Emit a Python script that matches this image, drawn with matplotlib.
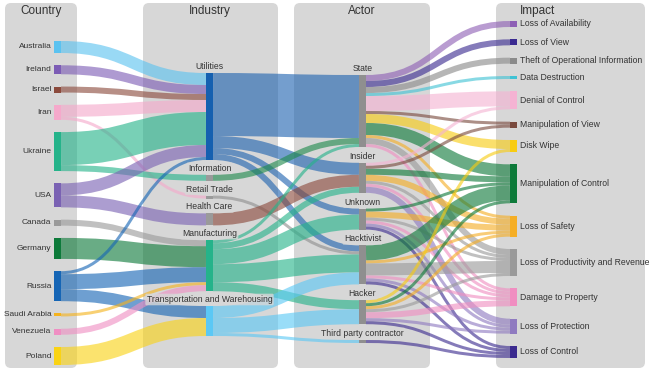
import matplotlib.pyplot as plt
from matplotlib.patches import FancyBboxPatch, Rectangle, PathPatch
from matplotlib.path import Path

plt.rcParams['font.family'] = ['Liberation Sans', 'DejaVu Sans']

# ---- data ----
countries = ['Australia', 'Ireland', 'Israel', 'Iran', 'Ukraine', 'USA', 'Canada',
             'Germany', 'Russia', 'Saudi Arabia', 'Venezuela', 'Poland']
industries = ['Utilities', 'Information', 'Retail Trade', 'Health Care',
              'Manufacturing', 'Transportation and Warehousing']
actors = ['State', 'Insider', 'Unknown', 'Hacktivist', 'Hacker', 'Third party contractor']
impacts = ['Loss of Availability', 'Loss of View', 'Theft of Operational Information',
           'Data Destruction', 'Denial of Control', 'Manipulation of View', 'Disk Wipe',
           'Manipulation of Control', 'Loss of Safety', 'Loss of Productivity and Revenue',
           'Damage to Property', 'Loss of Protection', 'Loss of Control']

country_industry = [
    ('Australia', 'Utilities', 4), ('Ireland', 'Utilities', 3), ('Israel', 'Utilities', 2),
    ('Iran', 'Utilities', 4), ('Iran', 'Retail Trade', 1),
    ('Ukraine', 'Utilities', 11), ('Ukraine', 'Information', 2),
    ('USA', 'Utilities', 4), ('USA', 'Health Care', 4),
    ('Canada', 'Manufacturing', 2), ('Germany', 'Manufacturing', 7),
    ('Russia', 'Utilities', 1), ('Russia', 'Manufacturing', 5),
    ('Russia', 'Transportation and Warehousing', 4),
    ('Saudi Arabia', 'Manufacturing', 1), ('Venezuela', 'Manufacturing', 2),
    ('Poland', 'Transportation and Warehousing', 6),
]
industry_actor = [
    ('Utilities', 'State', 21), ('Utilities', 'Insider', 4), ('Utilities', 'Unknown', 2),
    ('Utilities', 'Hacktivist', 2), ('Information', 'State', 2),
    ('Retail Trade', 'Hacktivist', 1), ('Health Care', 'Insider', 4),
    ('Manufacturing', 'State', 1), ('Manufacturing', 'Insider', 2),
    ('Manufacturing', 'Unknown', 5), ('Manufacturing', 'Hacktivist', 6),
    ('Manufacturing', 'Hacker', 3),
    ('Transportation and Warehousing', 'Hacktivist', 4),
    ('Transportation and Warehousing', 'Hacker', 5),
    ('Transportation and Warehousing', 'Third party contractor', 1),
]
actor_impact = [
    ('State', 'Loss of Availability', 2), ('State', 'Loss of View', 2),
    ('State', 'Theft of Operational Information', 2), ('State', 'Data Destruction', 1),
    ('State', 'Denial of Control', 5), ('State', 'Manipulation of View', 1),
    ('State', 'Disk Wipe', 3), ('State', 'Manipulation of Control', 4),
    ('State', 'Loss of Safety', 1), ('State', 'Loss of Productivity and Revenue', 2),
    ('State', 'Damage to Property', 1),
    ('Insider', 'Denial of Control', 1), ('Insider', 'Manipulation of View', 1),
    ('Insider', 'Manipulation of Control', 2), ('Insider', 'Loss of Safety', 2),
    ('Insider', 'Loss of Productivity and Revenue', 1), ('Insider', 'Damage to Property', 1),
    ('Insider', 'Loss of Protection', 2),
    ('Unknown', 'Manipulation of Control', 1), ('Unknown', 'Loss of Safety', 2),
    ('Unknown', 'Loss of Productivity and Revenue', 1), ('Unknown', 'Damage to Property', 1),
    ('Unknown', 'Loss of Protection', 1), ('Unknown', 'Loss of Control', 1),
    ('Hacktivist', 'Manipulation of Control', 5), ('Hacktivist', 'Loss of Safety', 1),
    ('Hacktivist', 'Loss of Productivity and Revenue', 4), ('Hacktivist', 'Damage to Property', 1),
    ('Hacktivist', 'Loss of Protection', 1), ('Hacktivist', 'Loss of Control', 1),
    ('Hacker', 'Disk Wipe', 1), ('Hacker', 'Manipulation of Control', 1),
    ('Hacker', 'Loss of Safety', 1), ('Hacker', 'Loss of Productivity and Revenue', 1),
    ('Hacker', 'Damage to Property', 2), ('Hacker', 'Loss of Protection', 1),
    ('Hacker', 'Loss of Control', 1),
    ('Third party contractor', 'Loss of Control', 1),
]

# ---- colours ----
node_color = {
    'Australia': '#5bc2f0', 'Ireland': '#7c5cb5', 'Israel': '#8b4a3c', 'Iran': '#f5a9cb',
    'Ukraine': '#25b38a', 'USA': '#7a62b3', 'Canada': '#9a9a9a', 'Germany': '#0d7a3a',
    'Russia': '#1565b5', 'Saudi Arabia': '#f5b31e', 'Venezuela': '#ef8fc3', 'Poland': '#fad315',
    'Utilities': '#1560b0', 'Information': '#9a9a9a', 'Retail Trade': '#9a9a9a',
    'Health Care': '#9a9a9a', 'Manufacturing': '#25b38a',
    'Transportation and Warehousing': '#5bc8f5',
    'Loss of Availability': '#8e5fb5', 'Loss of View': '#3a2a90',
    'Theft of Operational Information': '#8a8a8a', 'Data Destruction': '#3fc2d4',
    'Denial of Control': '#f5b3d3', 'Manipulation of View': '#7a4a3e', 'Disk Wipe': '#f8cc12',
    'Manipulation of Control': '#0e7a3a', 'Loss of Safety': '#f5ae25',
    'Loss of Productivity and Revenue': '#9a9a9a', 'Damage to Property': '#f08ec1',
    'Loss of Protection': '#8f7ac0', 'Loss of Control': '#3b2a8f',
}
for a in actors:
    node_color[a] = '#8f8f8f'
industry_link_color = {
    'Utilities': '#1f63b0', 'Information': '#1f8a4c', 'Retail Trade': '#8f8f8f',
    'Health Care': '#8b4a3c', 'Manufacturing': '#25b38a',
    'Transportation and Warehousing': '#5bc8f5',
}

# ---- layout (pixel space) ----
k = 3.0        # px per incident
nw = 7         # node width
columns = [
    (countries, 54, 41, 365),
    (industries, 206, 73, 336),
    (actors, 359, 75, 343),
    (impacts, 510, 21, 358),
]
all_links = country_industry + industry_actor + actor_impact

inflow, outflow = {}, {}
for s, t, v in all_links:
    outflow[s] = outflow.get(s, 0) + v
    inflow[t] = inflow.get(t, 0) + v

nodes = {}
for names, x, top, bottom in columns:
    vals = [max(inflow.get(n, 0), outflow.get(n, 0)) for n in names]
    gap = (bottom - top - sum(vals) * k) / (len(names) - 1)
    y = top
    for n, v in zip(names, vals):
        nodes[n] = dict(x=x, y0=y, y1=y + v * k)
        y += v * k + gap

# link offsets, sorted like d3-sankey
out_links, in_links = {}, {}
for i, (s, t, v) in enumerate(all_links):
    out_links.setdefault(s, []).append(i)
    in_links.setdefault(t, []).append(i)
ys, yt = {}, {}
for n, idx in out_links.items():
    idx.sort(key=lambda i: nodes[all_links[i][1]]['y0'])
    y = nodes[n]['y0']
    for i in idx:
        w = all_links[i][2] * k
        ys[i] = y + w / 2
        y += w
for n, idx in in_links.items():
    idx.sort(key=lambda i: nodes[all_links[i][0]]['y0'])
    y = nodes[n]['y0']
    for i in idx:
        w = all_links[i][2] * k
        yt[i] = y + w / 2
        y += w


def link_color(s, t):
    if s in countries:
        return node_color[s]
    if s in industries:
        return industry_link_color[s]
    return node_color[t]


# ---- drawing ----
dpi = 100
fig = plt.figure(figsize=(6.5, 3.73), dpi=dpi)
ax = fig.add_axes([0, 0, 1, 1])
ax.set_xlim(0, 650)
ax.set_ylim(373, 0)
ax.axis('off')

panel_col = '#d7d7d7'
for x0, x1 in [(5, 77), (143, 278), (294, 430), (496, 645)]:
    ax.add_patch(FancyBboxPatch((x0, 3), x1 - x0, 365,
                                boxstyle='round,pad=0,rounding_size=6',
                                fc=panel_col, ec='none', zorder=0))

for i, (s, t, v) in enumerate(all_links):
    x0 = nodes[s]['x'] + nw
    x1 = nodes[t]['x']
    xm = (x0 + x1) / 2
    p = Path([(x0, ys[i]), (xm, ys[i]), (xm, yt[i]), (x1, yt[i])],
             [Path.MOVETO, Path.CURVE4, Path.CURVE4, Path.CURVE4])
    ax.add_patch(PathPatch(p, fill=False, ec=link_color(s, t), alpha=0.62,
                           lw=v * k * 72 / dpi, capstyle='butt', zorder=1))

for n, d in nodes.items():
    ax.add_patch(Rectangle((d['x'], d['y0']), nw, d['y1'] - d['y0'],
                           fc=node_color[n], ec='none', zorder=2))

txt = '#333333'
for n in countries:
    d = nodes[n]
    ax.text(d['x'] - 2.5, (d['y0'] + d['y1']) / 2, n, ha='right', va='center',
            fontsize=6.0, color=txt, zorder=3)
for n in impacts:
    d = nodes[n]
    ax.text(d['x'] + nw + 3, (d['y0'] + d['y1']) / 2, n, ha='left', va='center',
            fontsize=6.2, color=txt, zorder=3)
for n in industries + actors:
    d = nodes[n]
    ax.text(d['x'] + nw / 2, d['y0'] - 2, n, ha='center', va='bottom',
            fontsize=6.2, color=txt, zorder=3,
            bbox=dict(boxstyle='round,pad=0.15', fc=panel_col, ec='none', alpha=0.8))

ax.text(41, 11, 'Country', ha='center', va='center', fontsize=8.5, color=txt)
ax.text(210, 11, 'Industry', ha='center', va='center', fontsize=8.5, color=txt)
ax.text(362, 11, 'Actor', ha='center', va='center', fontsize=8.5, color=txt)
ax.text(520, 11, 'Impact', ha='left', va='center', fontsize=8.5, color=txt)

fig.savefig('out.png', dpi=dpi)
